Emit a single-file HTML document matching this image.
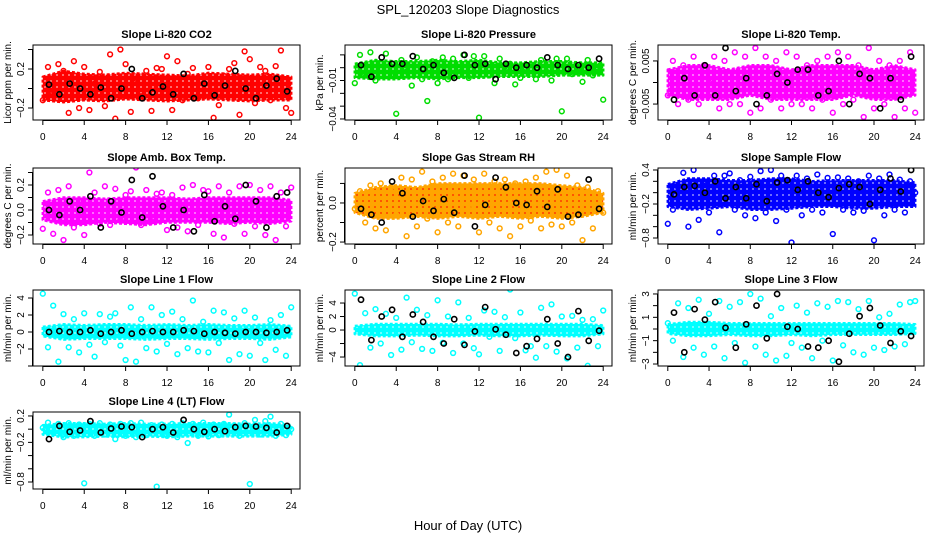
<!DOCTYPE html>
<html><head><meta charset="utf-8">
<style>
body{margin:0;background:#fff;}
svg{display:block;font-family:"Liberation Sans",Arial,sans-serif;}
</style></head>
<body>
<svg id="chart" width="936" height="540" viewBox="0 0 936 540" xmlns="http://www.w3.org/2000/svg">
<rect width="936" height="540" fill="#fff"/>
<text x="468" y="14" text-anchor="middle" font-size="13">SPL_120203  Slope Diagnostics</text>
<text x="468" y="530" text-anchor="middle" font-size="13">Hour of Day (UTC)</text>
</svg>
<script>
const hours = [0,0.5,1,1.5,2,2.5,3,3.5,4,4.5,5,5.5,6,6.5,7,7.5,8,8.5,9,9.5,10,10.5,11,11.5,12,12.5,13,13.5,14,14.5,15,15.5,16,16.5,17,17.5,18,18.5,19,19.5,20,20.5,21,21.5,22,22.5,23,23.5,24];
const blackHours = [0.6,1.6,2.6,3.6,4.6,5.6,6.6,7.6,8.6,9.6,10.6,11.6,12.6,13.6,14.6,15.6,16.6,17.6,18.6,19.6,20.6,21.6,22.6,23.6];
const bandHours = [0,2,4,6,8,10,12,14,16,18,20,22,24];
const xTicks = [0,4,8,12,16,20,24];

const co2Lo = [-0.12,-0.14,-0.12,-0.13,-0.11,-0.12,-0.13,-0.12,-0.11,-0.12,-0.13,-0.12,-0.12];
const co2Hi = [0.12,0.18,0.15,0.14,0.16,0.15,0.14,0.13,0.16,0.15,0.14,0.15,0.12];
const co2Col = [-0.12,0.22,-0.05,0.25,0.18,-0.25,0.28,-0.2,0.22,-0.22,0.05,0.17,-0.18,0.35,-0.31,0.4,0.25,-0.24,0.1,-0.08,0.18,-0.23,0.21,0.2,0.33,-0.22,0.28,-0.12,0.15,0.21,-0.1,0.05,0.22,-0.3,-0.17,0.13,0.2,0.26,-0.27,0.38,0.3,-0.15,0.22,0.18,-0.12,0.23,0.39,-0.2,-0.25];
const co2Blk = [0.04,-0.06,0.05,0.0,-0.06,0.01,-0.1,0.0,0.2,-0.1,-0.04,0.02,-0.06,0.15,-0.1,0.05,-0.07,0.03,0.18,0.0,-0.1,0.03,0.1,-0.03];

const presLo = [-0.008,-0.009,-0.009,-0.008,-0.009,-0.008,-0.008,-0.007,-0.007,-0.007,-0.006,-0.006,-0.006];
const presHi = [0.003,0.006,0.005,0.005,0.006,0.005,0.006,0.004,0.004,0.005,0.005,0.004,0.004];
const presCol = [-0.012,0.01,-0.005,0.012,-0.01,0.004,0.011,-0.006,-0.036,0.006,-0.003,-0.014,0.008,-0.009,-0.026,0.005,-0.012,0.008,-0.009,0.007,0.0,0.01,-0.008,0.009,-0.039,0.009,-0.006,-0.012,0.007,-0.002,0.003,-0.013,-0.008,0.0,0.002,-0.009,0.006,-0.003,-0.01,0.007,-0.034,0.007,-0.005,0.0,-0.011,0.006,-0.006,-0.003,-0.025];
const presBlk = [0.002,-0.007,0.008,0.003,0.003,0.009,-0.001,0.002,-0.004,-0.008,0.01,0.002,0.003,-0.009,0.003,0.0,0.002,0.0,0.008,0.002,-0.001,0.002,0.0,0.007];

const tempLo = [-0.003,-0.004,-0.004,-0.004,-0.003,-0.004,-0.004,-0.004,-0.004,-0.003,-0.004,-0.004,-0.003];
const tempHi = [0.003,0.004,0.004,0.003,0.004,0.004,0.003,0.004,0.004,0.004,0.003,0.004,0.003];
const tempCol = [-0.003,0.005,-0.005,0.004,-0.004,0.006,-0.005,0.004,0.0,0.006,-0.006,0.005,-0.005,0.007,-0.005,0.006,-0.007,0.008,-0.006,0.006,-0.004,0.005,-0.006,0.007,-0.005,0.006,-0.005,0.004,-0.006,0.005,-0.004,0.006,-0.007,0.007,-0.005,0.006,-0.004,0.004,-0.008,0.008,-0.006,0.005,-0.005,0.004,-0.008,0.005,-0.006,0.007,-0.007];
const tempBlk = [-0.004,0.001,-0.003,0.004,-0.003,0.008,-0.002,0.001,-0.005,-0.003,0.002,0.0,0.003,0.003,-0.003,-0.002,0.005,-0.005,0.002,0.001,-0.006,0.001,-0.004,0.006];

const ambLo = [-0.08,-0.12,-0.12,-0.1,-0.11,-0.12,-0.1,-0.1,-0.1,-0.11,-0.1,-0.11,-0.09];
const ambHi = [0.07,0.1,0.1,0.09,0.1,0.1,0.1,0.09,0.1,0.1,0.1,0.1,0.08];
const ambCol = [-0.15,0.14,-0.19,0.16,-0.24,0.19,-0.14,0.07,-0.2,0.3,0.14,-0.11,0.19,-0.12,0.17,-0.08,0.12,0.15,0.34,-0.12,0.16,-0.09,0.13,0.14,-0.16,0.12,-0.14,0.18,-0.17,0.2,-0.12,0.16,0.15,-0.19,0.19,-0.22,0.14,-0.11,0.19,-0.19,0.2,-0.13,0.16,-0.2,0.19,-0.24,0.14,-0.13,0.18];
const ambBlk = [0.0,-0.04,0.07,0.0,0.11,-0.14,0.07,-0.02,0.24,-0.06,0.27,0.03,-0.14,0.0,-0.17,0.12,-0.09,0.03,-0.07,0.2,0.07,-0.14,0.11,0.14];

const rhLo = [-0.05,-0.08,-0.08,-0.07,-0.08,-0.07,-0.08,-0.07,-0.08,-0.07,-0.08,-0.07,-0.05];
const rhHi = [0.05,0.08,0.09,0.08,0.1,0.1,0.1,0.1,0.1,0.1,0.09,0.08,0.05];
const rhCol = [-0.03,0.06,-0.1,0.09,-0.13,0.1,-0.14,0.08,-0.06,0.13,-0.17,0.12,-0.12,0.16,-0.08,0.11,-0.15,0.13,-0.1,0.15,-0.12,0.14,-0.02,0.12,-0.15,0.15,-0.1,0.11,-0.13,0.12,-0.17,0.1,-0.12,0.11,-0.09,0.13,-0.13,0.16,-0.11,0.17,-0.12,0.14,-0.1,0.09,-0.19,0.08,-0.13,0.06,-0.05];
const rhBlk = [-0.03,-0.06,-0.1,0.11,0.05,-0.07,0.01,-0.04,0.02,-0.05,0.14,-0.12,-0.01,0.13,0.08,0.0,-0.01,0.06,-0.02,0.07,-0.07,-0.06,0.12,-0.03];

const sampLo = [-0.25,-0.3,-0.28,-0.25,-0.3,-0.3,-0.28,-0.25,-0.25,-0.28,-0.28,-0.25,-0.25];
const sampHi = [0.15,0.25,0.25,0.22,0.22,0.25,0.25,0.2,0.22,0.22,0.22,0.22,0.18];
const sampCol = [-0.55,-0.3,0.1,0.35,-0.6,0.4,-0.48,0.2,-0.35,0.3,-0.7,0.3,0.34,-0.3,0.22,-0.4,0.28,-0.45,0.38,-0.35,0.4,-0.5,0.3,-0.3,-0.88,0.3,-0.4,0.25,-0.3,0.32,-0.35,0.26,-0.73,0.27,-0.3,0.25,-0.35,0.2,-0.32,0.3,-0.84,0.25,-0.4,0.32,-0.3,0.23,-0.35,0.2,0.0];
const sampBlk = [-0.03,0.1,0.12,0.0,0.2,-0.1,0.1,-0.1,0.15,-0.15,0.18,0.22,0.05,0.2,0.0,-0.08,0.08,0.15,0.1,-0.2,0.05,0.25,0.02,0.4];

const l1Lo = [-0.5,-0.9,-0.8,-0.8,-0.8,-0.9,-0.8,-0.8,-0.9,-0.8,-0.8,-0.9,-0.6];
const l1Hi = [0.6,0.9,0.8,0.9,0.9,0.8,0.9,0.8,0.9,0.8,0.8,0.9,0.7];
const l1Col = [4.5,-1.8,3.1,-3.5,2.1,-1.8,1.5,-2.4,2.2,-1.5,-2.9,2.1,-1.2,1.8,2.2,-1.6,-3.3,2.9,-3.5,1.5,-1.9,2.9,-2.3,2.0,-1.4,2.4,-2.6,1.5,-1.9,3.7,-2.3,1.2,-2.4,2.5,-1.3,2.3,-3.3,1.6,-2.6,2.5,-2.8,1.7,-1.3,-3.3,1.4,-2.1,2.0,-2.8,2.9];
const l1Blk = [0.0,0.1,0.0,0.0,0.2,-0.2,0.0,0.2,-0.2,0.0,0.1,0.0,0.0,0.2,0.1,-0.2,0.0,-0.1,-0.2,0.0,0.0,-0.1,0.0,0.2];

const l2Lo = [-0.6,-0.9,-0.9,-0.8,-0.9,-0.9,-0.8,-0.9,-0.9,-0.8,-0.9,-0.9,-0.6];
const l2Hi = [0.6,0.9,0.9,0.9,0.9,0.8,0.9,0.9,0.9,0.9,0.9,0.9,0.7];
const l2Col = [5.4,-5.2,2.5,-2.6,3.1,-2.0,2.4,-3.7,1.8,-2.9,4.8,-1.8,3.0,-2.8,2.2,-3.1,4.4,-1.9,2.0,-3.4,4.1,-2.0,1.8,-2.7,-3.6,2.9,-1.0,2.7,-3.1,1.9,6.0,-1.2,2.6,-3.0,-2.4,-4.1,3.3,-2.4,3.8,-3.2,2.0,-4.2,2.1,-2.6,1.5,-5.3,1.6,-2.4,2.9];
const l2Blk = [4.5,-1.5,2.0,3.0,-1.0,2.3,1.2,-1.0,-2.0,1.6,-2.2,-0.2,3.4,0.1,-0.7,-3.4,-2.4,-1.3,1.6,-2.0,-4.0,2.8,-1.6,-0.1];

const l3Lo = [-0.4,-0.6,-0.6,-0.5,-0.6,-0.6,-0.5,-0.6,-0.5,-0.5,-0.5,-0.5,-0.4];
const l3Hi = [0.4,0.6,0.6,0.5,0.5,0.5,0.5,0.5,0.5,0.5,0.5,0.5,0.4];
const l3Col = [0.5,-1.0,2.2,-2.4,1.8,-1.6,2.5,-2.2,1.3,-1.5,2.4,-2.5,1.9,-1.2,2.3,-2.9,3.0,-1.5,2.6,-2.2,1.1,-2.7,1.8,-2.3,-1.2,2.0,-1.6,1.4,-2.5,2.2,-1.0,1.9,-2.7,2.4,-1.4,2.3,-2.0,1.7,-2.2,2.4,-1.6,1.0,-1.8,1.3,-1.5,2.1,-1.3,2.3,2.4];
const l3Blk = [1.4,-2.0,1.7,0.8,2.3,0.1,-1.6,0.4,2.0,-0.8,3.0,0.2,0.0,-1.5,-1.6,-1.0,-2.8,-0.4,1.1,1.8,0.3,-1.2,-0.2,-0.6];

const l4Lo = [-0.08,-0.12,-0.12,-0.11,-0.12,-0.11,-0.12,-0.11,-0.11,-0.11,-0.11,-0.11,-0.08];
const l4Hi = [0.06,0.09,0.09,0.08,0.09,0.08,0.08,0.09,0.09,0.09,0.08,0.09,0.06];
const l4Col = [0.02,0.1,-0.05,0.08,-0.12,0.09,-0.1,0.07,-0.82,0.08,-0.1,0.09,-0.08,0.07,-0.15,0.08,-0.1,0.09,-0.12,0.1,-0.09,0.06,-0.87,0.07,-0.1,0.08,-0.12,0.09,-0.21,0.08,-0.1,0.1,-0.11,0.07,-0.09,0.08,0.22,0.05,-0.1,0.09,-0.83,0.14,-0.08,0.12,0.19,-0.1,0.08,-0.09,0.0];
const l4Blk = [-0.15,0.05,-0.04,-0.02,0.12,-0.05,0.01,0.04,0.03,-0.12,0.0,0.03,-0.05,0.14,0.0,-0.04,0.0,-0.03,0.03,0.05,0.04,0.02,-0.05,0.05];

const cols = [[33,300],[345,612],[658,924]];
const rows = [[45,120],[168,244],[290,366],[412,489]];

const panels = [
 {name:'co2',title:'Slope Li-820 CO2',ylab:'Licor ppm per min.',c:0,r:0,ymin:-0.323,ymax:0.446,ticks:[-0.2,0,0.2,0.4],labels:[-0.2,0.2],fmt:v=>String(v).replace('-','\u2212'),color:'#ff0000',lo:co2Lo,hi:co2Hi,col:co2Col,blk:co2Blk},
 {name:'pressure',title:'Slope Li-820 Pressure',ylab:'kPa per min.',c:1,r:0,ymin:-0.0408,ymax:0.0177,ticks:[-0.04,-0.03,-0.02,-0.01,0,0.01],labels:[-0.04,-0.01],fmt:v=>v.toFixed(2).replace('-','\u2212'),color:'#00dd00',lo:presLo,hi:presHi,col:presCol,blk:presBlk},
 {name:'temp',title:'Slope Li-820 Temp.',ylab:'degrees C per min.',c:2,r:0,ymin:-0.0087,ymax:0.0087,ticks:[-0.005,0,0.005],labels:[-0.005,0.005],fmt:v=>v.toFixed(3).replace('-','\u2212'),color:'#ff00ff',lo:tempLo,hi:tempHi,col:tempCol,blk:tempBlk},
 {name:'amb-box-temp',title:'Slope Amb. Box Temp.',ylab:'degrees C per min.',c:0,r:1,ymin:-0.272,ymax:0.336,ticks:[-0.2,-0.1,0,0.1,0.2,0.3],labels:[-0.2,0,0.2],fmt:v=>v.toFixed(1).replace('-','\u2212'),color:'#ff00ff',lo:ambLo,hi:ambHi,col:ambCol,blk:ambBlk},
 {name:'gas-rh',title:'Slope Gas Stream RH',ylab:'percent per min.',c:1,r:1,ymin:-0.21,ymax:0.179,ticks:[-0.2,-0.1,0,0.1],labels:[-0.2,0],fmt:v=>v.toFixed(1).replace('-','\u2212'),color:'#ffa500',lo:rhLo,hi:rhHi,col:rhCol,blk:rhBlk},
 {name:'sample-flow',title:'Slope Sample Flow',ylab:'ml/min per min.',c:2,r:1,ymin:-0.906,ymax:0.435,ticks:[-0.8,-0.6,-0.4,-0.2,0,0.2,0.4],labels:[-0.8,-0.2,0.4],fmt:v=>String(v).replace('-','\u2212'),color:'#0000ff',lo:sampLo,hi:sampHi,col:sampCol,blk:sampBlk},
 {name:'line1-flow',title:'Slope Line 1 Flow',ylab:'ml/min per min.',c:0,r:2,ymin:-4,ymax:4.94,ticks:[-4,-2,0,2,4],labels:[-2,0,2,4],fmt:v=>String(v).replace('-','\u2212'),color:'#00ffff',lo:l1Lo,hi:l1Hi,col:l1Col,blk:l1Blk},
 {name:'line2-flow',title:'Slope Line 2 Flow',ylab:'ml/min per min.',c:1,r:2,ymin:-5.33,ymax:5.93,ticks:[-4,-2,0,2,4],labels:[-4,0,2,4],fmt:v=>String(v).replace('-','\u2212'),color:'#00ffff',lo:l2Lo,hi:l2Hi,col:l2Col,blk:l2Blk},
 {name:'line3-flow',title:'Slope Line 3 Flow',ylab:'ml/min per min.',c:2,r:2,ymin:-3.17,ymax:3.34,ticks:[-3,-2,-1,0,1,2,3],labels:[-3,-1,1,3],fmt:v=>String(v).replace('-','\u2212'),color:'#00ffff',lo:l3Lo,hi:l3Hi,col:l3Col,blk:l3Blk},
 {name:'line4-flow',title:'Slope Line 4 (LT) Flow',ylab:'ml/min per min.',c:0,r:3,ymin:-0.906,ymax:0.26,ticks:[-0.8,-0.6,-0.4,-0.2,0,0.2],labels:[-0.8,-0.2,0.2],fmt:v=>String(v).replace('-','\u2212'),color:'#00ffff',lo:l4Lo,hi:l4Hi,col:l4Col,blk:l4Blk}
];

const svg = document.getElementById('chart');
const NS = 'http://www.w3.org/2000/svg';
function mk(tag, attrs, parent){
  const e = document.createElementNS(NS, tag);
  for (const k in attrs) e.setAttribute(k, attrs[k]);
  (parent||svg).appendChild(e);
  return e;
}
const defs = mk('defs', {});

panels.forEach(p => {
  const [x0,x1] = cols[p.c], [y0,y1] = rows[p.r];
  const xs = h => x0 + (h + 0.95) / 25.8 * (x1 - x0);
  const ys = v => y1 - (v - p.ymin) / (p.ymax - p.ymin) * (y1 - y0);
  const g = mk('g', {});
  
  

  // textured pattern imitating overlapping open circles
  const patId = 'pat-' + p.name;
  const pat = mk('pattern', {id:patId, patternUnits:'userSpaceOnUse', width:6, height:6}, defs);
  mk('rect', {x:0, y:0, width:6, height:6, fill:p.color}, pat);
  mk('circle', {cx:3, cy:3, r:1, fill: p.name === 'gas-rh' ? '#ff2200' : '#ffffff', opacity: p.name === 'gas-rh' ? 0.8 : 0.55}, pat);

  const clipId = 'clip-' + p.name;
  const cp = mk('clipPath', {id: clipId}, g);
  mk('rect', {x:x0, y:y0, width:x1-x0, height:y1-y0}, cp);
  const plot = mk('g', {'clip-path':'url(#'+clipId+')'}, g);
  
  

  let d = '';
  bandHours.forEach((h,i) => { d += (i ? 'L' : 'M') + xs(h).toFixed(1) + ',' + ys(p.hi[i]).toFixed(1); });
  for (let i = bandHours.length - 1; i >= 0; i--) d += 'L' + xs(bandHours[i]).toFixed(1) + ',' + ys(p.lo[i]).toFixed(1);
  d += 'Z';
  const band = mk('path', {d:d, fill:'url(#'+patId+')', stroke:p.color, 'stroke-width':2.5, 'stroke-dasharray':'3 2', 'stroke-linejoin':'round'}, plot);
  
  

  p.col.forEach((v,i) => {
    const c = mk('circle', {cx:xs(hours[i]).toFixed(1), cy:ys(v).toFixed(1), r:2.4, fill:'none', stroke:p.color, 'stroke-width':1.5}, plot);
    
    
  });
  p.blk.forEach((v,i) => {
    const c = mk('circle', {cx:xs(blackHours[i]).toFixed(1), cy:ys(v).toFixed(1), r:2.6, fill:'none', stroke:'#000', 'stroke-width':1.6}, plot);
    
    
  });

  const box = mk('rect', {x:x0, y:y0, width:x1-x0, height:y1-y0, fill:'none', stroke:'#000', 'stroke-width':1}, g);
  
  

  const title = mk('text', {x:(x0+x1)/2, y:y0-7, 'text-anchor':'middle', 'font-size':11, 'font-weight':'bold'}, g);
  title.textContent = p.title;
  
  

  const xa = mk('g', {}, g);
  
  
  mk('line', {x1:xs(xTicks[0]), x2:xs(xTicks[xTicks.length-1]), y1:y1+0.5, y2:y1+0.5, stroke:'#000'}, xa);
  xTicks.forEach(t => {
    mk('line', {x1:xs(t), x2:xs(t), y1:y1, y2:y1+5, stroke:'#000'}, xa);
    const tl = mk('text', {x:xs(t), y:y1+20, 'text-anchor':'middle', 'font-size':10}, xa);
    tl.textContent = t;
    
    
  });

  const ya = mk('g', {}, g);
  
  
  mk('line', {x1:x0-0.5, x2:x0-0.5, y1:ys(p.ticks[0]), y2:ys(p.ticks[p.ticks.length-1]), stroke:'#000'}, ya);
  p.ticks.forEach(t => {
    mk('line', {x1:x0-5, x2:x0, y1:ys(t), y2:ys(t), stroke:'#000'}, ya);
  });
  p.labels.forEach(t => {
    const tx = x0 - 9, ty = ys(t);
    const tl = mk('text', {x:tx, y:ty, 'text-anchor':'middle', 'font-size':10, transform:'rotate(-90 '+tx+' '+ty+')'}, ya);
    tl.textContent = p.fmt(t);
    
    
  });
  const lx = x0 - 22, ly = (y0 + y1) / 2;
  const yl = mk('text', {x:lx, y:ly, 'text-anchor':'middle', 'font-size':10, transform:'rotate(-90 '+lx+' '+ly+')'}, g);
  yl.textContent = p.ylab;
  
  
});
</script>
</body></html>
